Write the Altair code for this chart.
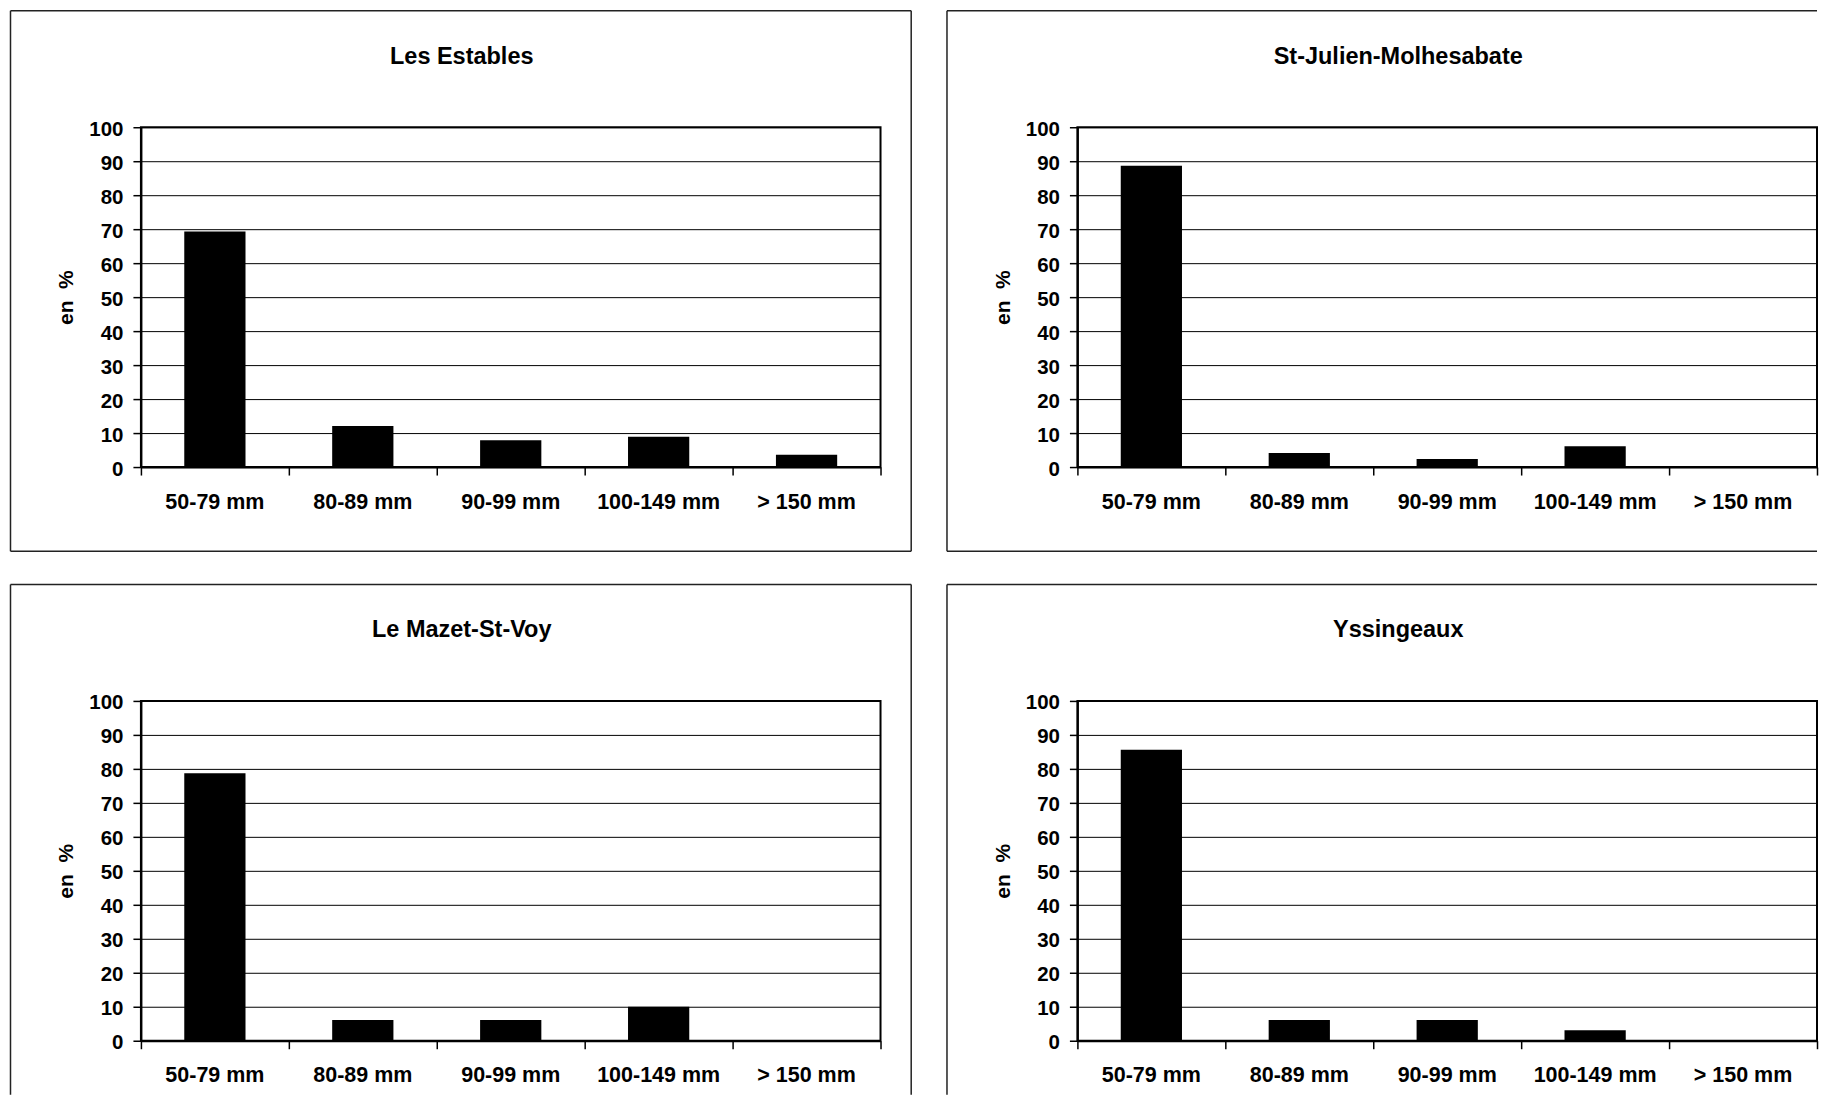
import altair as alt
import pandas as pd

# ---- data ----
categories = ["50-79 mm", "80-89 mm", "90-99 mm", "100-149 mm", "> 150 mm"]
panel_titles = ["Les Estables", "St-Julien-Molhesabate", "Le Mazet-St-Voy", "Yssingeaux"]
les_estables = [69.3, 12.1, 7.9, 8.9, 3.6]
st_julien = [88.7, 4.1, 2.4, 6.1, 0.0]
le_mazet = [78.7, 6.1, 6.1, 10.0, 0.0]
yssingeaux = [85.6, 6.1, 6.1, 3.1, 0.0]
y_ticks = list(range(0, 101, 10))
y_title = "en\u00a0\u00a0%"

FONT = "Liberation Sans"
W, H = 740, 340
FRAME_COLOR = "#222222"
FRAME_W = 1.5

one = pd.DataFrame({"k": [0]})


def rule_h(x1, x2, y):
    return alt.Chart(one).mark_rule(color=FRAME_COLOR, strokeWidth=FRAME_W).encode(
        x=alt.value(x1), x2=alt.value(x2), y=alt.value(y))


def rule_v(x, y1, y2):
    return alt.Chart(one).mark_rule(color=FRAME_COLOR, strokeWidth=FRAME_W).encode(
        x=alt.value(x), y=alt.value(y1), y2=alt.value(y2))


def panel(title, values, right_cut, bottom_cut):
    df = pd.DataFrame({"classe": categories, "pct": values})
    bars = alt.Chart(df).mark_bar(
        color="black", width=alt.RelativeBandSize(band=0.414)
    ).encode(
        x=alt.X(
            "classe:N", sort=categories,
            scale=alt.Scale(paddingInner=0, paddingOuter=0),
            axis=alt.Axis(title=None, labelAngle=0, bandPosition=1, tickExtra=True,
                          tickSize=8, labelPadding=16, labelFontSize=21.5,
                          labelBaseline="top", grid=False),
        ),
        y=alt.Y(
            "pct:Q",
            scale=alt.Scale(domain=[0, 100], nice=False),
            axis=alt.Axis(values=y_ticks, title=y_title, grid=True, tickSize=8,
                          labelPadding=10, labelFontSize=20.5, labelOffset=2,
                          titleFontSize=21, titlePadding=12),
        ),
    )
    txt = alt.Chart(one).mark_text(
        text=title, font=FONT, fontSize=23.5, fontWeight="bold", color="black",
        align="center", baseline="alphabetic"
    ).encode(x=alt.value(321), y=alt.value(-63.5))

    L, T = -130.5, -116.5
    R = 740 if right_cut else 770.7
    B = 394 if bottom_cut else 424.3
    rules = [rule_h(L, R, T), rule_v(L, T, B)]
    if not right_cut:
        rules.append(rule_v(R, T, B))
    if not bottom_cut:
        rules.append(rule_h(L, R, B))
    return alt.layer(bars, txt, *rules).properties(width=W, height=H)


p1 = panel(panel_titles[0], les_estables, False, False)
p2 = panel(panel_titles[1], st_julien, True, False)
p3 = panel(panel_titles[2], le_mazet, False, True)
p4 = panel(panel_titles[3], yssingeaux, True, True)

chart = alt.concat(
    p1, p2, p3, p4, columns=2,
    spacing={"row": 234, "column": 197}, bounds="flush"
).properties(
    padding={"left": 0, "top": 0, "right": 0, "bottom": 0},
    background="white",
).configure_view(
    stroke="black", strokeWidth=2
).configure_axis(
    labelFont=FONT, labelFontWeight="bold", labelColor="black",
    titleFont=FONT, titleFontWeight="bold", titleColor="black",
    domainColor="black", domainWidth=2, tickColor="black", tickWidth=1.5,
    gridColor="black", gridOpacity=1, gridWidth=1,
)

chart.save("out.html", embed_options={"renderer": "svg", "actions": False})
